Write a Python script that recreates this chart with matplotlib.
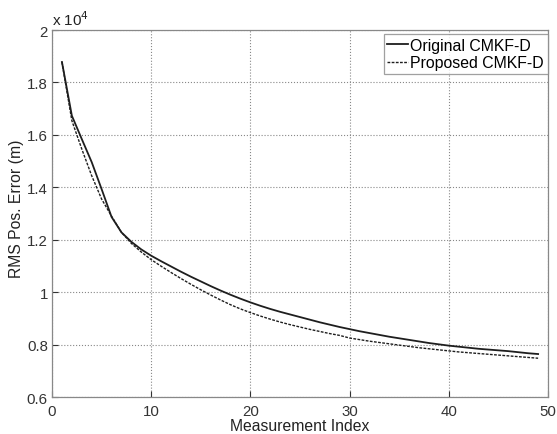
import matplotlib
matplotlib.use("Agg")
import matplotlib.pyplot as plt

plt.rcParams['font.family'] = ['Liberation Sans', 'DejaVu Sans']

# RMS position error, in units of 10^4 m
index = list(range(1, 50))
original = [1.878, 1.673, 1.584, 1.496, 1.393, 1.287, 1.228, 1.192, 1.163, 1.139,
            1.118, 1.098, 1.078, 1.059, 1.041, 1.023, 1.006, 0.990, 0.975, 0.961,
            0.948, 0.936, 0.925, 0.915, 0.905, 0.895, 0.885, 0.876, 0.867, 0.859,
            0.851, 0.844, 0.837, 0.830, 0.824, 0.818, 0.812, 0.806, 0.801, 0.796,
            0.792, 0.788, 0.784, 0.781, 0.778, 0.775, 0.771, 0.767, 0.764]
proposed = [1.878, 1.654, 1.546, 1.444, 1.355, 1.290, 1.228, 1.186, 1.153, 1.124,
            1.099, 1.075, 1.052, 1.030, 1.009, 0.989, 0.970, 0.952, 0.936, 0.922,
            0.909, 0.897, 0.886, 0.876, 0.867, 0.858, 0.850, 0.842, 0.835, 0.825,
            0.819, 0.813, 0.808, 0.803, 0.798, 0.793, 0.788, 0.784, 0.780, 0.776,
            0.772, 0.769, 0.766, 0.763, 0.760, 0.757, 0.754, 0.751, 0.748]
xticks = [0, 10, 20, 30, 40, 50]
yticks = [0.6, 0.8, 1.0, 1.2, 1.4, 1.6, 1.8, 2.0]
ytick_labels = ['0.6', '0.8', '1', '1.2', '1.4', '1.6', '1.8', '2']

fig = plt.figure(figsize=(5.57, 4.35), dpi=100)
ax = fig.add_axes([0.0934, 0.085, 0.8905, 0.8437])

ax.plot(index, original, color='#1e1e1e', lw=1.3, ls='-', label='Original CMKF-D')
ax.plot(index, proposed, color='#1e1e1e', lw=1.0, ls=(0, (2, 1)), label='Proposed CMKF-D')

ax.set_xlim(0, 50)
ax.set_ylim(0.6, 2.0)
ax.set_xticks(xticks)
ax.set_yticks(yticks)
ax.set_yticklabels(ytick_labels)
ax.tick_params(direction='in', length=4, labelsize=10.8, colors='#333333')
ax.tick_params(axis='x', pad=5)
ax.tick_params(axis='y', pad=3)
ax.grid(True, color='#888888', ls=':', lw=0.8)
for s in ax.spines.values():
    s.set_color('#888888')
    s.set_linewidth(0.9)

ax.set_xlabel('Measurement Index', fontsize=11.3, color='#222222')
ax.xaxis.set_label_coords(0.5, -0.057)
ax.set_ylabel('RMS Pos. Error (m)', fontsize=11.3, color='#222222')
ax.yaxis.set_label_coords(-0.056, 0.515)

ax.text(0.0, 1.005, r'x 10$^4$', transform=ax.transAxes, ha='left', va='bottom',
        fontsize=11, color='#222222')

leg = ax.legend(loc='upper right', bbox_to_anchor=(1.0, 0.989), fontsize=11.4,
                frameon=True, fancybox=False, edgecolor='#888888',
                borderaxespad=0.0, handlelength=1.3, handletextpad=0.15,
                borderpad=0.25, labelspacing=0.15)
leg.get_frame().set_linewidth(0.9)

fig.savefig('out.png', dpi=100)
